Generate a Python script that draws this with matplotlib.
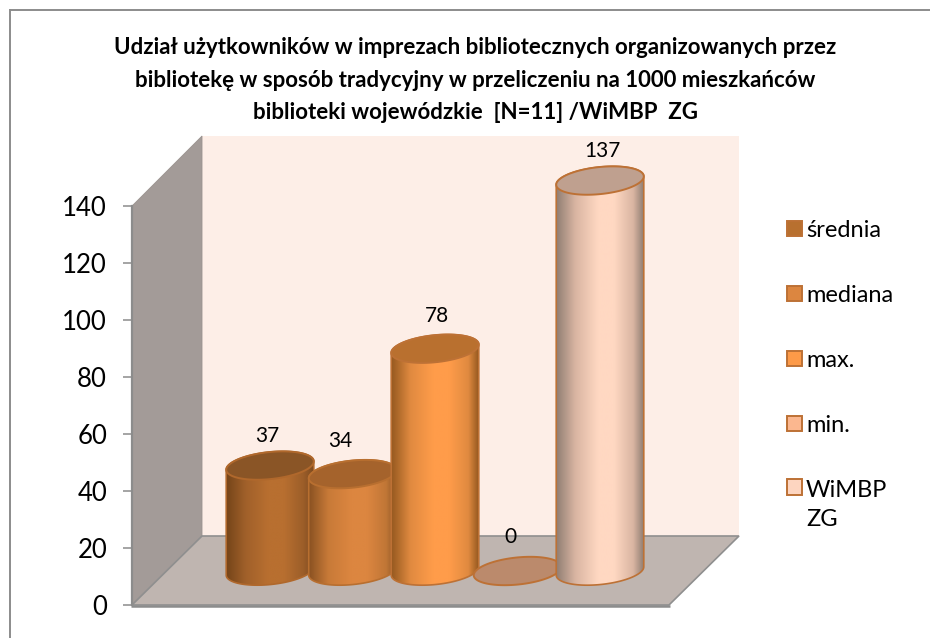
import numpy as np
import matplotlib
matplotlib.use("Agg")
import matplotlib.pyplot as plt
from matplotlib.colors import LinearSegmentedColormap
from matplotlib.lines import Line2D
from matplotlib.patches import Polygon, Patch
from matplotlib.transforms import Affine2D

categories = ["średnia", "mediana", "max.", "min.", "WiMBP\nZG"]
values = [37, 34, 78, 0, 137]
y_ticks = [0, 20, 40, 60, 80, 100, 120, 140]
title = ("Udział użytkowników w imprezach bibliotecznych organizowanych przez\n"
         "bibliotekę w sposób tradycyjny w przeliczeniu na 1000 mieszkańców\n"
         "biblioteki wojewódzkie  [N=11] /WiMBP  ZG")

# styles
legend_colors = ["#b8702f", "#dc8640", "#fd9a48", "#fbb78f", "#fdd5c0"]
edge_colors = ["#b0682c", "#b86f30", "#bd7135", "#bd7135", "#bd7135"]
top_colors = ["#8a5526", "#a5632c", "#b9702f", "#bb8a6c", "#bfa08f"]
body_stops = [
    ["#744419", "#a0602a", "#b86f30", "#b86f30", "#9c5e29", "#7c4a20"],
    ["#8a5222", "#c87a38", "#dc8640", "#dc8640", "#c07636", "#8a5424"],
    ["#94581f", "#e08a40", "#ff9c4a", "#ff9c4a", "#e08a40", "#94581f"],
    ["#9a6a50", "#d09a7a", "#fbb78f", "#fbb78f", "#d09a7a", "#9a6a50"],
    ["#8f7d72", "#d9b5a2", "#ffd8c2", "#ffd8c2", "#d9b5a2", "#8f7d72"],
]
label_dx = [-3, -12, 2, -7, 2]
label_dy = [30, 33, 33, 34, 30]

W, H = 930, 638
plt.rcParams["font.family"] = ["Lato", "DejaVu Sans"]
fig = plt.figure(figsize=(W / 100, H / 100), dpi=100, facecolor="white")


def fx(x):
    return x / W


def fy(y):
    return 1 - y / H


def chrome(points, **kw):
    fig.add_artist(Polygon([(fx(x), fy(y)) for x, y in points], closed=True,
                           transform=fig.transFigure, zorder=-1, **kw))


def rule(xs, ys, width):
    fig.add_artist(Line2D([fx(x) for x in xs], [fy(y) for y in ys], color="#8c8c8c",
                          linewidth=width, transform=fig.transFigure, zorder=-0.5,
                          solid_capstyle="butt"))


# frame (top and left only), walls and floor
rule([10, 930], [9.5, 9.5], 1.4)
rule([10, 10], [9, 638], 1.4)
chrome([(202, 136), (739, 136), (739, 536), (202, 536)], facecolor="#fdeee7",
       edgecolor="none")
chrome([(132, 206), (202, 136), (202, 536), (132, 605)], facecolor="#a39b98",
       edgecolor="#9a9390", linewidth=0.6)
chrome([(132, 605), (202, 536), (739, 536), (669, 605)], facecolor="#bfb5b0",
       edgecolor="#8f8f8f", linewidth=1.2)
rule([131, 670], [606, 606], 1.8)

left, right, top, bottom = 132, 670, 206, 605
ax = fig.add_axes([fx(left), fy(bottom), (right - left) / W, (bottom - top) / H])
ax.patch.set_alpha(0)
x_per_cat = 82.5
xlim = (-(270 - left) / x_per_cat, (right - 270) / x_per_cat)
ylim = (0, 140)
y_px = (bottom - top) / (ylim[1] - ylim[0])
depth = Affine2D().translate(0, 34)
bar_trans = ax.transData + depth

a, b, theta = 44.0, 13.5, np.radians(6)
t0 = np.arctan2(-b * np.sin(theta), a * np.cos(theta))


def curve(cx, value, t):
    px = a * np.cos(t) * np.cos(theta) - b * np.sin(t) * np.sin(theta)
    py = a * np.cos(t) * np.sin(theta) + b * np.sin(t) * np.cos(theta)
    return np.column_stack([cx + px / x_per_cat, value + py / y_px])


half_w = a / x_per_cat
for i, (val, stops) in enumerate(zip(values, body_stops)):
    if val > 0:
        lower = curve(i, 0, np.linspace(t0, t0 - np.pi, 60))
        upper = curve(i, val, np.linspace(t0 - np.pi, t0 - 2 * np.pi, 60))
        body = Polygon(np.vstack([lower, upper]), closed=True, facecolor="none",
                       edgecolor=edge_colors[i], linewidth=1.2,
                       transform=bar_trans, zorder=3 + i * 3, clip_on=False)
        ax.add_patch(body)
        cmap = LinearSegmentedColormap.from_list(f"c{i}", list(zip(
            [0, 0.22, 0.48, 0.66, 0.88, 1], stops)))
        im = ax.imshow(np.linspace(0, 1, 256)[None, :], cmap=cmap, aspect="auto",
                       extent=(i - half_w, i + half_w, -20, val + 10),
                       transform=bar_trans, zorder=2 + i * 3, interpolation="bilinear")
        im.set_clip_path(body)
        im.set_clip_box(fig.bbox)
    ax.add_patch(Polygon(curve(i, val, np.linspace(0, 2 * np.pi, 120)), closed=True,
                         facecolor=top_colors[i], edgecolor=edge_colors[i], linewidth=1.4,
                         transform=bar_trans, zorder=4 + i * 3, clip_on=False))
    ax.annotate(str(val), (i, val), xycoords=bar_trans,
                xytext=(label_dx[i] * 0.72, label_dy[i] * 0.72), textcoords="offset points",
                ha="center", va="center", fontsize=15, color="black", zorder=30,
                annotation_clip=False)

ax.set_xlim(*xlim)
ax.set_ylim(*ylim)
ax.set_xticks([])
ax.set_yticks(y_ticks)
ax.tick_params(axis="y", length=6.5, width=1.1, color="#8c8c8c", labelsize=18.5, pad=11.5,
               labelcolor="black")
for s in ("top", "right", "bottom"):
    ax.spines[s].set_visible(False)
ax.spines["left"].set_color("#8c8c8c")
ax.spines["left"].set_linewidth(1.6)

handles = [Patch(facecolor=c, edgecolor="#bd7135", linewidth=1.4) for c in legend_colors]
leg = fig.legend(handles, categories, loc="upper left",
                 bbox_to_anchor=(fx(787), fy(220)), frameon=False, fontsize=17,
                 handlelength=0.63, handleheight=0.63, handletextpad=0.18,
                 labelspacing=1.86, borderpad=0, borderaxespad=0)
leg.get_texts()[-1].set_linespacing(1.48)
leg.legend_handles[-1].set_y(leg.legend_handles[-1].get_y() + 13)

fig.suptitle(title, x=fx(475), y=fy(37.5), ha="center", va="top", fontsize=16,
             fontweight="bold", linespacing=1.66, color="black")
fig.savefig("out.png", dpi=100, facecolor="white")
